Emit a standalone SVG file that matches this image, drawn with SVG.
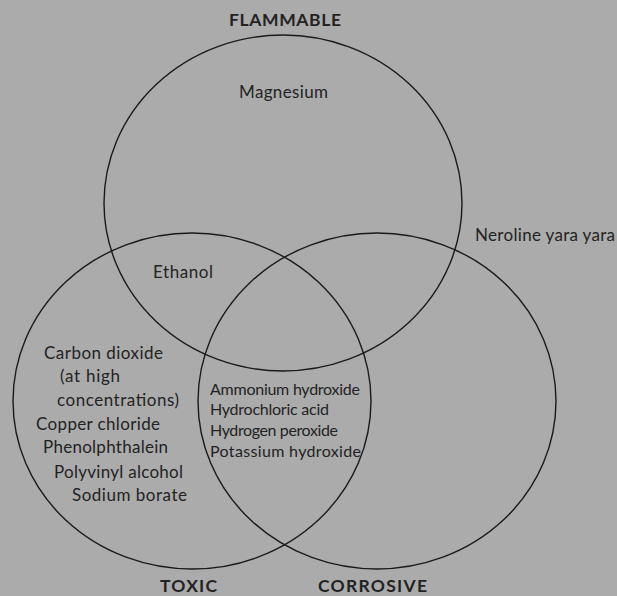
<svg xmlns="http://www.w3.org/2000/svg" width="617" height="596" viewBox="0 0 617 596">
<style>
.c{fill:none;stroke:#1a1a1a;stroke-width:1.4}
text{font-family:Lato,"Open Sans","Liberation Sans",sans-serif;fill:#232323}
.h{font-weight:bold;font-size:17.5px}
.t{font-size:17px}
.s{font-size:16px}
</style>
<rect width="617" height="596" fill="#ababab"/>
<g id="connectors"/>
<g id="flammable">
<ellipse class="c" cx="283" cy="203" rx="179" ry="168"/>
<text class="h" x="229" y="26" textLength="112">FLAMMABLE</text>
</g>
<g id="toxic">
<ellipse class="c" cx="192" cy="401" rx="179" ry="168"/>
<text class="h" x="160" y="592" textLength="57">TOXIC</text>
</g>
<g id="corrosive">
<ellipse class="c" cx="377" cy="401" rx="179" ry="168"/>
<text class="h" x="318" y="592" textLength="109">CORROSIVE</text>
</g>
<g id="magnesium"><text class="t" x="239" y="98" textLength="89">Magnesium</text></g>
<g id="neroline"><text class="t" x="475" y="241" textLength="140">Neroline yara yara</text></g>
<g id="ethanol"><text class="t" x="153" y="278" textLength="60">Ethanol</text></g>
<g id="toxic-only">
<text class="t" x="44" y="359" textLength="119">Carbon dioxide</text>
<text class="t" x="60" y="382" textLength="60">(at high</text>
<text class="t" x="57" y="406" textLength="122">concentrations)</text>
<text class="t" x="36" y="430" textLength="124">Copper chloride</text>
<text class="t" x="43" y="453" textLength="125">Phenolphthalein</text>
<text class="t" x="54" y="478" textLength="129">Polyvinyl alcohol</text>
<text class="t" x="72" y="501" textLength="115">Sodium borate</text>
</g>
<g id="toxic-corrosive">
<text class="s" x="210" y="395" textLength="150">Ammonium hydroxide</text>
<text class="s" x="210" y="415" textLength="119">Hydrochloric acid</text>
<text class="s" x="210" y="436" textLength="128">Hydrogen peroxide</text>
<text class="s" x="210" y="457" textLength="151">Potassium hydroxide</text>
</g>
</svg>
